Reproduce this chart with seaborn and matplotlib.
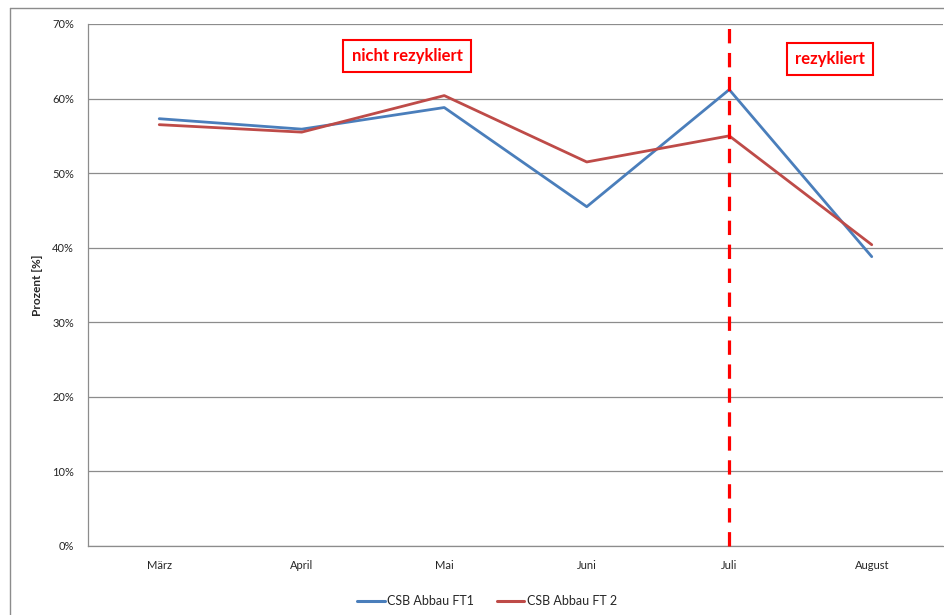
import matplotlib
matplotlib.use("Agg")
import matplotlib.pyplot as plt
import seaborn as sns
import pandas as pd
from matplotlib.lines import Line2D

months = ["März", "April", "Mai", "Juni", "Juli", "August"]
ft1 = [57.3, 55.9, 58.8, 45.5, 61.2, 38.8]
ft2 = [56.5, 55.5, 60.4, 51.5, 55.0, 40.4]
series_names = ["CSB Abbau FT1", "CSB Abbau FT 2"]
yticks = [0, 10, 20, 30, 40, 50, 60, 70]
marker_month = "Juli"

sns.set_style("white")
plt.rcParams['font.family'] = ['Lato', 'DejaVu Sans']

df = pd.DataFrame({
    "Monat": months * 2,
    "Wert": ft1 + ft2,
    "Serie": [series_names[0]] * len(months) + [series_names[1]] * len(months),
    "idx": list(range(len(months))) * 2,
})

W, H = 944, 615
fig = plt.figure(figsize=(W / 100, H / 100), dpi=100)
ax = fig.add_axes([88 / W, (H - 546) / H, (943 - 88) / W, (546 - 24) / H])

colors = {series_names[0]: "#4a7ebb", series_names[1]: "#be4b48"}
sns.lineplot(data=df, x="idx", y="Wert", hue="Serie", palette=colors,
             linewidth=2.0, ax=ax, legend=False, sort=False)

ax.set_xlim(-0.5, len(months) - 0.5)
ax.set_ylim(0, 70)
ax.set_yticks(yticks)
ax.set_yticklabels([f"{v}%" for v in yticks], fontsize=8)
ax.set_xticks(range(len(months)))
ax.set_xticklabels(months, fontsize=8)
ax.tick_params(axis="x", length=0, pad=10)
ax.set_xticks([i - 0.5 for i in range(len(months) + 1)], minor=True)
ax.tick_params(axis="x", which="minor", length=4, color="#888888", direction="out")
ax.tick_params(axis="y", length=4, color="#888888", direction="out", pad=6)
ax.grid(axis="y", color="#8c8c8c", linewidth=0.9)
ax.set_axisbelow(True)
for s in ["top", "right"]:
    ax.spines[s].set_visible(False)
for s in ["left", "bottom"]:
    ax.spines[s].set_color("#8c8c8c")
    ax.spines[s].set_linewidth(0.9)
ax.set_xlabel("")
ax.set_ylabel("Prozent [%]", fontsize=8.5, fontweight="bold", labelpad=7)

xj = months.index(marker_month)
ax.axvline(xj, color="#ff0000", linewidth=2.3, linestyle=(0, (4.5, 3)), ymin=0, ymax=1,
           clip_on=False, zorder=5)

box = dict(boxstyle="square,pad=0.5", facecolor="white", edgecolor="#ff0000", linewidth=1.5)
fig.text(407 / W, 1 - 56 / H, "nicht rezykliert", color="#ff0000", fontsize=12,
         fontweight="bold", ha="center", va="center", bbox=box)
fig.text(830 / W, 1 - 59 / H, "rezykliert", color="#ff0000", fontsize=12,
         fontweight="bold", ha="center", va="center", bbox=box)

handles = [Line2D([0], [0], color=colors[n], linewidth=2.2) for n in series_names]
fig.legend(handles, series_names, loc="center", bbox_to_anchor=(487 / W, 1 - 601 / H),
           ncol=2, frameon=False, fontsize=9, handlelength=2.2, handletextpad=0.2,
           columnspacing=1.8)

# outer chart border
fig.add_artist(Line2D([10 / W, 10 / W], [0, 1 - 8 / H], transform=fig.transFigure,
                      color="#8c8c8c", linewidth=1.0))
fig.add_artist(Line2D([10 / W, 1], [1 - 8 / H, 1 - 8 / H], transform=fig.transFigure,
                      color="#8c8c8c", linewidth=1.0))

fig.savefig("out.png", dpi=100)
